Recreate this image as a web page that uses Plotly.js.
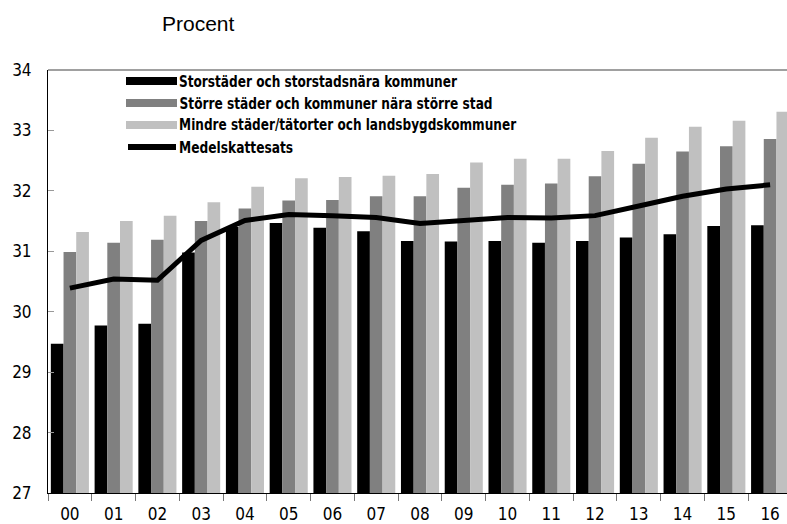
<!DOCTYPE html>
<html>
<head>
<meta charset="utf-8">
<script src="https://cdn.plot.ly/plotly-3.0.1.min.js"></script>
<style>
html,body{margin:0;padding:0;overflow:hidden;background:#fff;width:787px;height:524px;}
#chart{width:793px;height:524px;}
</style>
</head>
<body>
<div id="chart"></div>
<script>
const years = ["00","01","02","03","04","05","06","07","08","09","10","11","12","13","14","15","16"];
const storstader = [29.47,29.77,29.80,30.98,31.40,31.47,31.39,31.33,31.17,31.16,31.17,31.14,31.17,31.23,31.28,31.42,31.43];
const storreStader = [30.99,31.14,31.19,31.50,31.71,31.84,31.85,31.91,31.91,32.05,32.10,32.12,32.24,32.45,32.65,32.74,32.86];
const mindreStader = [31.32,31.50,31.59,31.81,32.07,32.21,32.23,32.25,32.28,32.47,32.53,32.53,32.66,32.88,33.06,33.16,33.31];
const medelskattesats = [30.39,30.54,30.52,31.18,31.51,31.61,31.59,31.56,31.46,31.51,31.56,31.55,31.59,31.75,31.91,32.03,32.10];
const seriesNames = [
  "Storstäder och storstadsnära kommuner",
  "Större städer och kommuner nära större stad",
  "Mindre städer/tätorter och landsbygdskommuner",
  "Medelskattesats"
];
const colors = ["#000000","#808080","#c0c0c0"];

const condensed = "'Liberation Sans Narrow','DejaVu Sans Condensed','Arial Narrow',sans-serif";

const traces = [
  {type:"bar", x:years, y:storstader, name:seriesNames[0], marker:{color:colors[0]}, showlegend:false},
  {type:"bar", x:years, y:storreStader, name:seriesNames[1], marker:{color:colors[1]}, showlegend:false},
  {type:"bar", x:years, y:mindreStader, name:seriesNames[2], marker:{color:colors[2]}, showlegend:false},
  {type:"scatter", mode:"lines", x:years, y:medelskattesats, name:seriesNames[3], line:{color:"#000", width:5}, showlegend:false}
];

// manual legend (paper coords)
const rowsY = [81, 103, 125, 147];
const legendTextWidths = [278, 313, 337, 114];
const plotTop = 70, plotH = 423, plotL = 48, plotW = 744;
function py(p){ return 1 - (p - plotTop)/plotH; }
function px(p){ return (p - plotL)/plotW; }
const shapes = [
  {type:"line", xref:"paper", yref:"paper", x0:0, x1:1, y0:1, y1:1, line:{color:"#a0a0a0", width:2}}
];
const annotations = [];
for (let i=0;i<4;i++){
  if (i<3){
    shapes.push({type:"rect", xref:"paper", yref:"paper", x0:px(126), x1:px(177), y0:py(rowsY[i]-4), y1:py(rowsY[i]+4), fillcolor:colors[i], line:{width:0}});
  } else {
    shapes.push({type:"line", xref:"paper", yref:"paper", x0:px(128), x1:px(176), y0:py(rowsY[i]), y1:py(rowsY[i]), line:{color:"#000", width:6}});
  }
  annotations.push({xref:"paper", yref:"paper", x:px(179 + legendTextWidths[i]/2), y:py(rowsY[i]), xanchor:"center", yanchor:"middle", showarrow:false, text:seriesNames[i], font:{family:condensed, size:16, color:"#000", weight:"bold"}});
}

const layout = {
  width:793, height:524,
  margin:{l:48, r:1, t:70, b:31},
  paper_bgcolor:"#fff", plot_bgcolor:"#fff",
  title:{text:"Procent", x:162/793, xanchor:"left", y:1-24/524, yanchor:"middle", font:{family:"'Liberation Sans',Arial,sans-serif", size:21, color:"#000"}},
  barmode:"group", bargap:0.13, bargroupgap:0,
  xaxis:{type:"category", showline:true, linecolor:"#000", linewidth:1, ticks:"outside", tickson:"boundaries", ticklen:7, tickcolor:"#777", tickfont:{family:condensed, size:17, color:"#000"}, ticklabelstandoff:6, showgrid:false, zeroline:false, fixedrange:true},
  yaxis:{range:[27,34], dtick:1, tick0:27, showline:true, linecolor:"#000", linewidth:1, ticks:"inside", ticklen:6, tickcolor:"#999", tickfont:{family:condensed, size:17, color:"#000"}, showgrid:false, zeroline:false, ticklabelstandoff:12, fixedrange:true},
  shapes:shapes, annotations:annotations, showlegend:false
};

Plotly.newPlot("chart", traces, layout, {displayModeBar:false, staticPlot:true}).then(function(gd){
  const texts = gd.querySelectorAll("text.annotation-text");
  texts.forEach(function(t){
    const idx = seriesNames.indexOf(t.textContent);
    if (idx >= 0){
      t.setAttribute("textLength", legendTextWidths[idx]);
      t.setAttribute("lengthAdjust", "spacingAndGlyphs");
    }
  });
});
</script>
</body>
</html>
